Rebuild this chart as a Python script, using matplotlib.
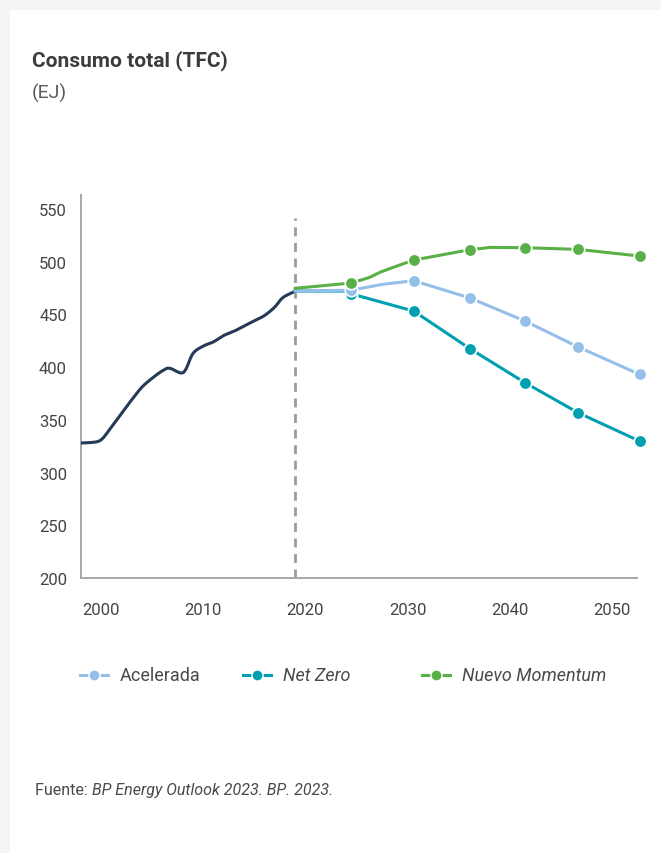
import matplotlib
matplotlib.use('Agg')
import matplotlib.pyplot as plt
import numpy as np
from matplotlib.lines import Line2D
from matplotlib.patches import Rectangle

plt.rcParams['font.family'] = ['Roboto', 'DejaVu Sans']

# historico
hist_years = [1998, 1999, 2000, 2001, 2002, 2003, 2004, 2005, 2006, 2006.7, 2007.8,
              2008.3, 2009, 2010, 2011, 2012, 2013, 2014, 2015, 2016, 2017, 2017.8, 2019]
hist_vals = [328, 328.5, 331, 343, 356, 369, 381, 389.5, 396.5, 399, 394.5,
             398, 413, 420, 424, 430, 434, 439, 444, 449, 457, 466, 472]

acel_years = [2019, 2024.5, 2027.5, 2030.6, 2036.1, 2041.5, 2046.7, 2052.7]
acel_vals = [472.2, 473, 478.5, 482, 465.6, 443.7, 419.1, 393.2]
acel_marks = [1, 3, 4, 5, 6, 7]

nz_years = [2019, 2023.8, 2024.5, 2030.6, 2036.1, 2041.5, 2046.7, 2052.7]
nz_vals = [472.2, 472.2, 469.5, 453.2, 417.5, 385.2, 356.7, 329.9]
nz_marks = [2, 3, 4, 5, 6, 7]

nm_years = [2019, 2024.5, 2026.3, 2027.3, 2028.6, 2030.6, 2036.1, 2038.1, 2041.5, 2046.7, 2052.7]
nm_vals = [474.8, 479.8, 485.2, 490, 494.7, 501.6, 511.4, 513.6, 513.3, 511.7, 505.4]
nm_marks = [1, 5, 6, 8, 9, 10]

xticks = [2000, 2010, 2020, 2030, 2040, 2050]
yticks = [200, 250, 300, 350, 400, 450, 500, 550]
corte = 2019

c_hist = '#243a56'
c_acel = '#93bfe8'
c_nz = '#00a0b2'
c_nm = '#58b046'
c_txt = '#4a4a4a'


def suave(x, y, n=12):
    # catmull-rom solo para dibujar la linea sin quiebres
    x = np.asarray(x, float)
    y = np.asarray(y, float)
    px = np.concatenate([[2 * x[0] - x[1]], x, [2 * x[-1] - x[-2]]])
    py = np.concatenate([[2 * y[0] - y[1]], y, [2 * y[-1] - y[-2]]])
    t = np.linspace(0, 1, n, endpoint=False)
    ox, oy = [], []
    for i in range(1, len(px) - 2):
        for p, o in ((px, ox), (py, oy)):
            p0, p1, p2, p3 = p[i - 1], p[i], p[i + 1], p[i + 2]
            o.extend(0.5 * (2 * p1 + (-p0 + p2) * t + (2 * p0 - 5 * p1 + 4 * p2 - p3) * t ** 2
                            + (-p0 + 3 * p1 - 3 * p2 + p3) * t ** 3))
    ox.append(x[-1])
    oy.append(y[-1])
    return ox, oy


W, H = 661, 854
fig = plt.figure(figsize=(W / 100, H / 100), dpi=100, facecolor='#f4f4f4')
fig.add_artist(Rectangle((10 / W, 0), 1, 1 - 11 / H, transform=fig.transFigure,
                         facecolor='white', edgecolor='none', zorder=0))

ax = fig.add_axes([81 / W, 1 - 579 / H, (637 - 81) / W, (579 - 196) / H])
ax.set_facecolor('none')
ax.set_xlim(1998.04, 2052.45)
ax.set_ylim(200, 563.3)

hx, hy = suave(hist_years, hist_vals)
ax.plot(hx, hy, color=c_hist, lw=2.2, solid_capstyle='round', zorder=3)
ax.plot([corte, corte], [200, 541.5], color='#9a9a9a', lw=2, dashes=(3.2, 2.4), zorder=2)

for yr, vals, col, mk in [(nz_years, nz_vals, c_nz, nz_marks),
                          (acel_years, acel_vals, c_acel, acel_marks),
                          (nm_years, nm_vals, c_nm, nm_marks)]:
    ax.plot(yr, vals, color=col, lw=2.2, marker='o', markevery=mk, markersize=9,
            markeredgecolor='white', markeredgewidth=1.2, clip_on=False, zorder=4)

ax.set_xticks(xticks)
ax.set_yticks(yticks)
ax.tick_params(length=0, labelsize=12, labelcolor='#444444')
ax.tick_params(axis='x', pad=17)
ax.tick_params(axis='y', pad=10)
for s in ['top', 'right']:
    ax.spines[s].set_visible(False)
for s in ['left', 'bottom']:
    ax.spines[s].set_color('#a8a8a8')
    ax.spines[s].set_linewidth(1.4)

fig.text(32 / W, 1 - 61 / H, 'Consumo total (TFC)', fontsize=15, fontweight='bold',
         color='#3c3c3c', va='center', ha='left')
fig.text(32 / W, 1 - 93 / H, '(EJ)', fontsize=14, fontweight='normal',
         color='#5a5a5a', va='center', ha='left')

# leyenda
ly = 1 - 676 / H
items = [(80, 'Acelerada', c_acel, 'normal'),
         (243, 'Net Zero', c_nz, 'italic'),
         (422, 'Nuevo Momentum', c_nm, 'italic')]
for x0, lab, col, st in items:
    fig.add_artist(Line2D([x0 / W, (x0 + 28) / W], [ly, ly], color=col, lw=2.2,
                          transform=fig.transFigure))
    fig.add_artist(Line2D([(x0 + 14) / W], [ly], color=col, marker='o', markersize=8,
                          markeredgecolor='white', markeredgewidth=1,
                          transform=fig.transFigure))
    fig.text((x0 + 40) / W, ly, lab, fontsize=13, style=st,
             color=c_txt, va='center', ha='left')

fy = 1 - 791 / H
t1 = fig.text(35 / W, fy, 'Fuente: ', fontsize=11.5, color=c_txt, va='center', ha='left')
fig.canvas.draw()
bb = t1.get_window_extent()
fig.text(bb.x1 / W, fy, 'BP Energy Outlook 2023. BP. 2023.', fontsize=11.5,
         style='italic', color=c_txt, va='center', ha='left')

fig.savefig('out.png', dpi=100, facecolor=fig.get_facecolor())
